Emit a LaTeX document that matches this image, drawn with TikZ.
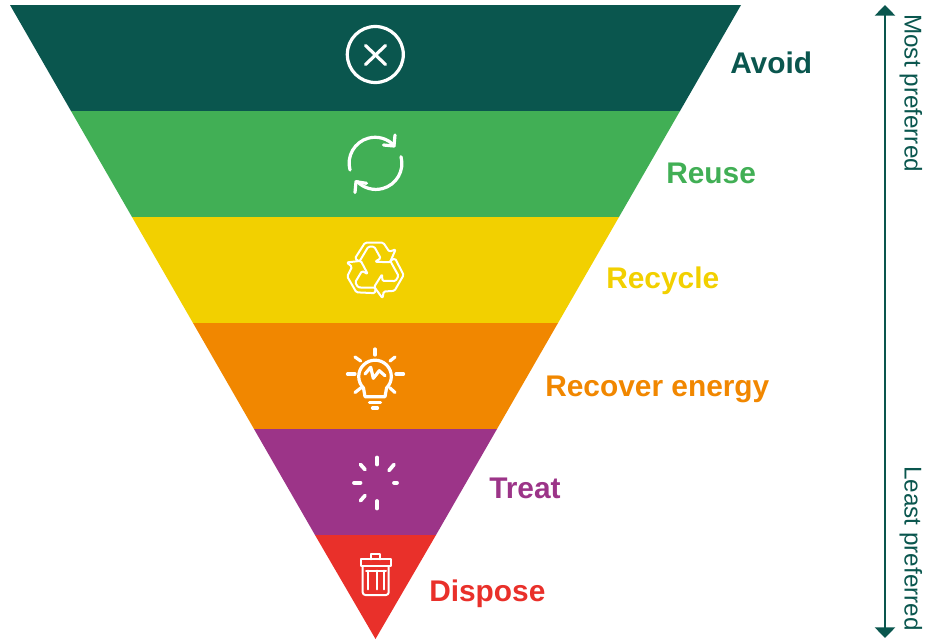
\documentclass[tikz,border=0pt]{standalone}
\usepackage{fontspec}
\setmainfont{Liberation Sans}
\usetikzlibrary{arrows.meta}

\definecolor{avoidcol}{HTML}{0A564E}
\definecolor{reusecol}{HTML}{41AF55}
\definecolor{recyclecol}{HTML}{F2D000}
\definecolor{energycol}{HTML}{F18700}
\definecolor{treatcol}{HTML}{9C3488}
\definecolor{disposecol}{HTML}{E9302A}

\begin{document}
\begin{tikzpicture}[x=0.75pt,y=-0.75pt,
        hierlabel/.style={anchor=base west,inner sep=0pt,font=\fontsize{22.4}{27}\selectfont\bfseries},
        sidelabel/.style={rotate=-90,anchor=west,inner sep=0pt,text=avoidcol,font=\fontsize{18.2}{22}\selectfont},
        iconline/.style={white,line width=2.4pt,line cap=round,line join=round},
        thinicon/.style={white,line width=1.5pt,line cap=round,line join=round}]

            \useasboundingbox (0,0) rectangle (938,639);

            % Draw the bands of the funnel
            \foreach \ya/\yb/\xa/\xb/\xc/\xd/\col in {
            5/111/10/741/680/71/avoidcol,
            111/217/71/680/619/132/reusecol,
            217/323/132/619/558/193/recyclecol,
            323/429/193/558/497/254/energycol,
            429/535/254/497/436/315/treatcol} {
            \fill [\col] (\xa,\ya) -- (\xb,\ya) -- (\xc,\yb) -- (\xd,\yb) -- cycle;
            }
            \fill [disposecol] (315,535) -- (436,535) -- (375.5,639) -- cycle;

            % Add the labels beside the bands
            \foreach \name/\x/\y/\col/\lab in {
            avoid/730/73/avoidcol/Avoid,
            reuse/666/183/reusecol/Reuse,
            recycle/606/288/recyclecol/Recycle,
            energy/545/396/energycol/Recover energy,
            treat/489/498/treatcol/Treat,
            dispose/429/601/disposecol/Dispose} {
            \node [hierlabel,text=\col] (\name) at (\x,\y) {\lab};
            }

            % Avoid icon
            \draw [iconline] (375.3,54.5) circle (28);
            \draw [iconline] (365.5,45.5) -- (385.5,64.5);
            \draw [iconline] (385.5,45.5) -- (365.5,64.5);

            % Reuse icon
            \draw [iconline] (350,170) arc [start angle=165,end angle=317,radius=26];
            \draw [iconline] (395,135) -- (394,146) -- (383.5,145);
            \draw [iconline] (401,156.7) arc [start angle=-15,end angle=136,radius=26];
            \draw [iconline] (355,192.5) -- (356,181.7) -- (366.5,183.3);

            % Recycle icon
            \foreach \ang in {0,120,240} {
                \draw [thinicon,rounded corners=1pt,shift={(375,270)},rotate=\ang] (-20,-11.7) -- (-10,-27.3) -- (8.3,-27.3) -- (14.3,-18.3)
                    -- (20.7,-20.7) -- (15,-7.7) -- (0,-8.3) -- (5.7,-11.7) -- (-0.7,-23.3) -- (-6.7,-23.3) -- (-15.7,-8.3) -- cycle;
            }

            % Energy icon
            \foreach \xa/\ya/\xb/\yb in {
            375/349/375/355,
            347.5/374/355/374,
            396/374/403.5/374,
            355/357/360.7/361,
            395/357/390/361,
            355/392.5/361/387.8,
            395/392.5/389.8/387.8,
            369.5/402.7/380.5/402.7,
            372.5/408/377.5/408} {
                \draw [iconline] (\xa,\ya) -- (\xb,\yb);
            }
            \draw [iconline] (365,396.7) -- (363.5,388) arc [start angle=135,end angle=405,radius=16.3] -- (385,396.7) -- cycle;
            \draw [iconline] (365,374) -- (370.7,367.3) -- (373.3,378.3) -- (379.3,370.7) -- (385,375.7);

            % Treat icon
            \foreach \xa/\ya/\xb/\yb in {
            377/457.5/377/464.5,
            377/501/377/508.5,
            354/482.7/360.5/482.7,
            394/482.7/397/482.7,
            360.5/464.5/365/469.5,
            394/464.5/389/470.5,
            360.5/500.7/365/495.5} {
                \draw [white,line width=2.8pt,line cap=round] (\xa,\ya) -- (\xb,\yb);
            }

            % Dispose icon
            \draw [thinicon] (360.7,559.3) rectangle (390.7,566);
            \draw [thinicon] (370.7,559.3) -- (370.7,554.3) -- (380,554.3) -- (380,559.3);
            \draw [thinicon,rounded corners=2pt] (362.7,566) -- (362.7,595) -- (388.7,595) -- (388.7,566);
            \draw [thinicon] (366,570.7) -- (386,570.7);
            \foreach \x in {368.3,377,384.3} {
                \draw [thinicon] (\x,570.7) -- (\x,589.3);
            }

            % Preference scale
            \coordinate (most) at (885,5);
            \coordinate (least) at (885,638);
            \draw [{Triangle[width=15pt,length=8pt]}-{Triangle[width=15pt,length=8pt]},line width=2pt,avoidcol] (most) -- (least);
            \node [sidelabel] (mostlab) at (911,14) {Most preferred};
            \node [sidelabel] (leastlab) at (911,466) {Least preferred};

\end{tikzpicture}
\end{document}
